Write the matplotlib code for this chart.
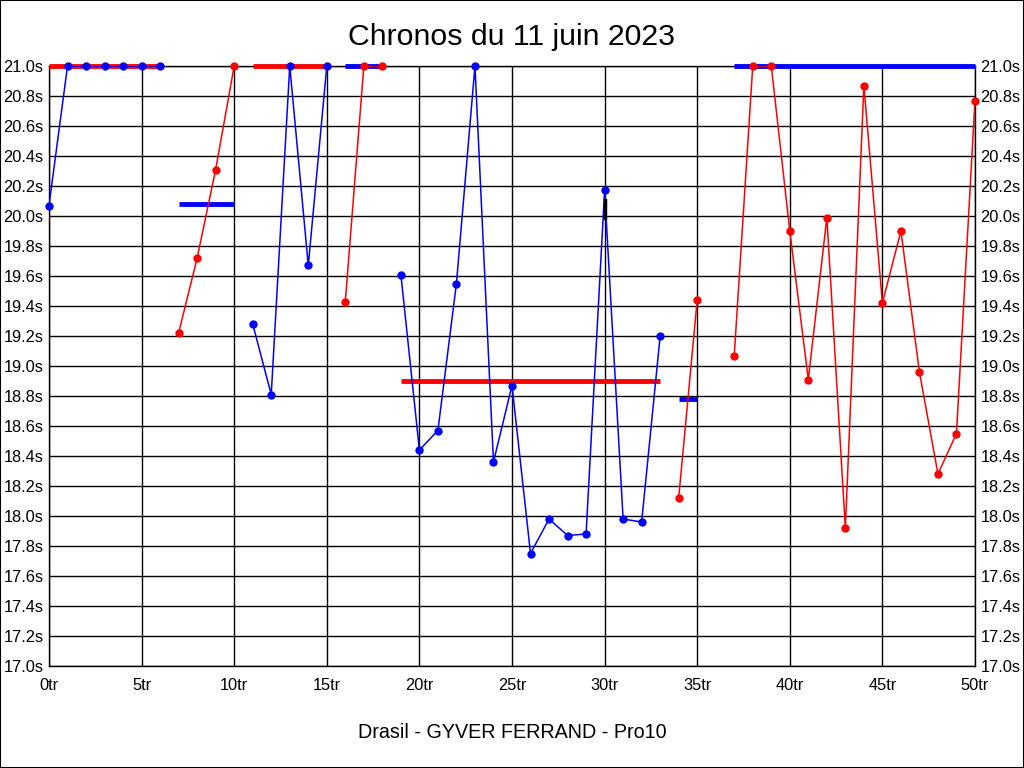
import numpy as np
import matplotlib
matplotlib.use("Agg")
import matplotlib.pyplot as plt
from matplotlib.patches import Rectangle

plt.rcParams['font.family'] = ['Liberation Sans', 'DejaVu Sans']

# lap times in seconds (values above 21.0 are shown capped at 21.0)
lap_times = [20.07, 21.0, 21.0, 21.0, 21.0, 21.0, 21.0,
             19.22, 19.72, 20.31, 21.0,
             19.28, 18.81, 21.0, 19.67, 21.0,
             19.43, 21.0, 21.0,
             19.61, 18.44, 18.57, 19.55, 21.0, 18.36, 18.87, 17.75, 17.98,
             17.87, 17.88, 20.17, 17.98, 17.96, 19.20,
             18.12, 19.44,
             np.nan,
             19.07, 21.0, 21.0, 19.90, 18.91, 19.99, 17.92, 20.87, 19.42,
             19.90, 18.96, 18.28, 18.55, 20.77]

# stints: first lap, last lap, colour, average line value
stint_start = [0, 7, 11, 16, 19, 34, 37]
stint_end = [6, 10, 15, 18, 33, 35, 50]
stint_color = ['blue', 'red', 'blue', 'red', 'blue', 'red', 'red']
stint_avg = [21.0, 20.08, 21.0, 21.0, 18.90, 18.78, 21.0]

# small black mark at lap 30
mark_lap = 30
mark_lo, mark_hi = 19.99, 20.11

title = "Chronos du 11 juin 2023"
subtitle = "Drasil - GYVER FERRAND - Pro10"

other = {'blue': 'red', 'red': 'blue'}

fig = plt.figure(figsize=(10.24, 7.68), dpi=100)
fig.patches.append(Rectangle((0, 0), 1, 1, transform=fig.transFigure,
                             fill=False, edgecolor='black', linewidth=1.5))
ax = fig.add_axes([49 / 1024, 1 - 666 / 768, 926 / 1024, 600 / 768])

laps = np.arange(len(lap_times))
times = np.array(lap_times)

for s, e, c, avg in zip(stint_start, stint_end, stint_color, stint_avg):
    x = laps[s:e + 1]
    y = times[s:e + 1]
    ax.plot(x, y, color=c, linewidth=1.1, zorder=4)
    ax.plot(x, y, 'o', color=c, markersize=5, zorder=5, clip_on=False)
    ax.plot([s, e], [avg, avg], color=other[c], linewidth=3.5,
            solid_capstyle='butt', zorder=3, clip_on=False)

ax.plot([mark_lap, mark_lap], [mark_lo, mark_hi], color='black',
        linewidth=2.5, zorder=6)

ax.set_xlim(0, 50)
ax.set_ylim(17.0, 21.0)
ax.set_xticks(range(0, 51, 5))
ax.set_xticklabels([f"{v}tr" for v in range(0, 51, 5)])
yt = np.round(np.arange(17.0, 21.01, 0.2), 1)
ax.set_yticks(yt)
ax.set_yticklabels([f"{v:.1f}s" for v in yt])
ax.tick_params(axis='both', length=0, labelsize=11.8, colors='black')
ax.tick_params(axis='y', pad=4, left=False, right=False,
               labelleft=True, labelright=True)
ax.tick_params(axis='x', pad=9)
ax.grid(True, color='black', linewidth=1)
ax.set_axisbelow(True)
for sp in ax.spines.values():
    sp.set_color('black')
    sp.set_linewidth(1)

fig.text(0.5, 1 - 37 / 768, title, ha='center', va='center', fontsize=21.8)
fig.text(0.5, 1 - 733 / 768, subtitle, ha='center', va='center', fontsize=14.2)

fig.savefig("out.png", dpi=100, facecolor='white')
